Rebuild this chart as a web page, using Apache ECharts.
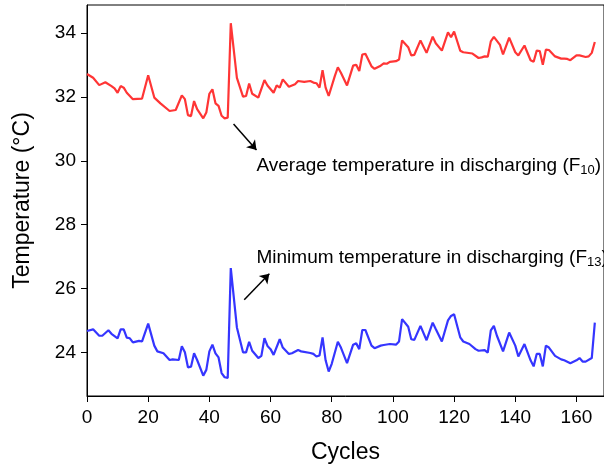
<!DOCTYPE html>
<html>
<head>
<meta charset="utf-8">
<script src="https://cdn.jsdelivr.net/npm/echarts@6/dist/echarts.min.js"></script>
<style>
  html, body { margin: 0; padding: 0; background: #fff; }
  #chart { width: 604px; height: 469px; }
</style>
</head>
<body>
<div id="chart"></div>
<script>
// Average discharge temperature (F10) per cycle
const avgCycles = [0,2,4,6,8,9,10,11,12,13,15,18,20,22,24,27,29,31,32,33,34,35,36,38,39,40,41,42,43,44,45,46,47,49,51,52,53,54,56,58,59,61,62,63,64,66,68,69,71,73,74,75,76,77,78,79,81,82,83,85,87,88,89,90,91,93,94,96,97,98,99,101,102,103,105,106,107,109,111,113,114,116,118,119,120,122,123,126,128,129,130,131,132,133,135,136,138,140,141,143,145,146,147,148,149,150,151,153,155,156,157,158,160,161,163,164,165,166];
const avgTemp = [32.72,32.60,32.37,32.46,32.34,32.27,32.13,32.34,32.29,32.13,31.93,31.95,32.68,31.98,31.80,31.56,31.59,32.05,31.93,31.43,31.40,31.87,31.62,31.33,31.51,32.10,32.24,31.80,31.72,31.41,31.33,31.35,34.31,32.60,32.01,32.03,32.42,32.10,31.98,32.53,32.36,32.13,32.36,32.29,32.55,32.32,32.40,32.50,32.47,32.50,32.45,32.43,32.29,32.84,32.29,32.03,32.65,32.93,32.76,32.36,32.98,33.01,32.81,33.33,33.35,32.96,32.88,32.98,33.05,33.04,33.10,33.12,33.17,33.77,33.56,33.30,33.32,33.77,33.38,33.89,33.68,33.45,34.02,33.87,34.05,33.45,33.40,33.36,33.22,33.24,33.27,33.26,33.74,33.88,33.63,33.33,33.86,33.40,33.30,33.61,33.15,33.10,33.45,33.44,33.01,33.48,33.47,33.27,33.20,33.20,33.19,33.15,33.30,33.30,33.25,33.27,33.38,33.72];

// Minimum discharge temperature (F13) per cycle
const minCycles = [0,2,4,5,7,8,10,11,12,13,14,15,17,18,20,22,23,25,27,28,30,31,32,33,34,35,36,38,39,40,41,42,43,44,45,46,47,49,51,52,53,54,56,57,58,59,60,61,63,64,66,67,69,70,73,74,75,76,77,78,79,80,82,83,85,87,88,89,90,91,93,94,96,97,99,101,102,103,105,106,107,109,111,113,114,116,118,119,120,122,123,125,127,128,130,131,132,133,134,136,138,140,141,143,145,146,147,148,149,150,151,153,155,156,158,160,161,162,163,165,166];
const minTemp = [24.67,24.72,24.52,24.52,24.69,24.58,24.44,24.72,24.72,24.46,24.44,24.31,24.36,24.34,24.90,24.21,24.03,23.97,23.76,23.78,23.76,24.19,24.00,23.53,23.55,23.97,23.76,23.27,23.45,24.03,24.24,23.97,23.84,23.35,23.22,23.20,26.64,24.78,24.00,24.00,24.33,24.05,23.82,23.89,24.44,24.20,24.10,23.92,24.41,24.15,23.95,23.97,24.07,24.03,23.98,23.95,23.87,23.90,24.47,23.75,23.40,23.64,24.33,24.15,23.66,24.24,24.28,24.10,24.70,24.70,24.21,24.13,24.21,24.23,24.26,24.24,24.34,25.04,24.80,24.41,24.39,24.83,24.38,24.93,24.73,24.34,25.00,25.14,25.19,24.47,24.34,24.26,24.10,24.05,24.07,23.99,24.69,24.83,24.52,24.03,24.62,24.21,23.87,24.26,23.75,23.56,23.95,23.95,23.56,24.21,24.15,23.89,23.78,23.75,23.66,23.75,23.82,23.71,23.71,23.82,24.93];

const xTicks = [0, 20, 40, 60, 80, 100, 120, 140, 160];
const yTicks = [24, 26, 28, 30, 32, 34];

// Annotation arrows (data coordinates) and their captions
const avgArrow = [[47.9, 31.15], [55.4, 30.34]];
const minArrow = [[51.4, 25.65], [59.6, 26.46]];
const avgCaptionAt = [55.4, 29.84];
const minCaptionAt = [55.4, 26.95];

const FONT = '"Liberation Sans", Arial, sans-serif';

const pairs = (xs, ys) => xs.map((x, i) => [x, ys[i]]);

const captionRich = {
  a: { fontSize: 19, fontFamily: FONT, color: '#000' },
  s: { fontSize: 13, fontFamily: FONT, color: '#000', padding: [9, 0, 0, 0] }
};

function arrowLine(coords) {
  return {
    silent: true,
    symbol: ['none', 'arrow'],
    symbolSize: 9,
    label: { show: false },
    lineStyle: { color: '#000', width: 1.5, type: 'solid' },
    emphasis: { disabled: true },
    data: [[{ coord: coords[0] }, { coord: coords[1] }]]
  };
}

function caption(at, text) {
  return {
    silent: true,
    symbol: 'circle',
    symbolSize: 0,
    label: {
      show: true,
      position: 'right',
      distance: 0,
      formatter: text,
      rich: captionRich
    },
    data: [{ coord: at }]
  };
}

const chart = echarts.init(document.getElementById('chart'), null, { renderer: 'canvas' });
chart.setOption({
  animation: false,
  backgroundColor: '#fff',
  grid: {
    left: 87, right: -2, top: 5, bottom: 70,
    show: true, borderColor: '#000', borderWidth: 1, backgroundColor: 'transparent'
  },
  xAxis: {
    type: 'value',
    min: 0, max: 169,
    name: 'Cycles',
    nameLocation: 'middle',
    nameGap: 45,
    nameTextStyle: { fontSize: 23, fontFamily: FONT, color: '#000' },
    axisLine: { show: true, lineStyle: { color: '#000', width: 1 } },
    axisTick: { show: true, inside: false, length: 6, customValues: xTicks, lineStyle: { color: '#000' } },
    axisLabel: { customValues: xTicks, margin: 12, fontSize: 19, fontFamily: FONT, color: '#000' },
    splitLine: { show: false }
  },
  yAxis: {
    type: 'value',
    min: 22.632, max: 34.88,
    name: 'Temperature (°C)',
    nameLocation: 'middle',
    nameGap: 53,
    nameTextStyle: { fontSize: 23, fontFamily: FONT, color: '#000' },
    axisLine: { show: true, lineStyle: { color: '#000', width: 1 } },
    axisTick: { show: true, inside: false, length: 6, customValues: yTicks, lineStyle: { color: '#000' } },
    axisLabel: { customValues: yTicks, margin: 11, fontSize: 19, fontFamily: FONT, color: '#000' },
    splitLine: { show: false }
  },
  series: [
    {
      name: 'Average temperature in discharging (F10)',
      type: 'line',
      data: pairs(avgCycles, avgTemp),
      showSymbol: false,
      symbol: 'none',
      lineStyle: { color: '#ff3535', width: 2.2 },
      itemStyle: { color: '#ff3535' },
      markLine: arrowLine(avgArrow),
      markPoint: caption(avgCaptionAt, '{a|Average temperature in discharging (F}{s|10}{a|)}')
    },
    {
      name: 'Minimum temperature in discharging (F13)',
      type: 'line',
      data: pairs(minCycles, minTemp),
      showSymbol: false,
      symbol: 'none',
      lineStyle: { color: '#3535ff', width: 2.2 },
      itemStyle: { color: '#3535ff' },
      markLine: arrowLine(minArrow),
      markPoint: caption(minCaptionAt, '{a|Minimum temperature in discharging (F}{s|13}{a|)}')
    }
  ]
});
</script>
</body>
</html>
